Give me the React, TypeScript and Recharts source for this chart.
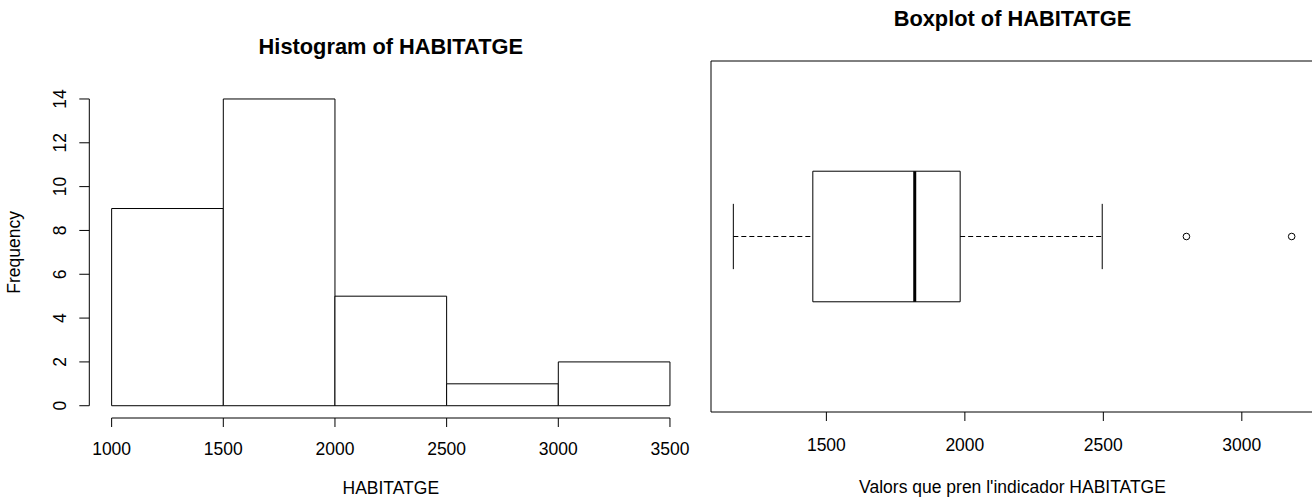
import React from 'react';
import { ComposedChart, XAxis, YAxis, ReferenceArea, ReferenceLine, Scatter } from 'recharts';

const FONT = '"Liberation Sans", Arial, Helvetica, sans-serif';

// ---------- Histogram data ----------
const binStarts = [1000, 1500, 2000, 2500, 3000];
const binEnds = [1500, 2000, 2500, 3000, 3500];
const frequencies = [9, 14, 5, 1, 2];
const histXTicks = [1000, 1500, 2000, 2500, 3000, 3500];
const histYTicks = [0, 2, 4, 6, 8, 10, 12, 14];

// ---------- Boxplot data ----------
// [lower whisker, Q1, median, Q3, upper whisker]
const boxStats = [1164, 1451, 1819, 1983, 2496];
const outliers = [2800, 3180];
const boxXTicks = [1500, 2000, 2500, 3000];

// R-style 4% axis extension
const ext = (lo: number, hi: number): [number, number] => {
  const d = (hi - lo) * 0.04;
  return [lo - d, hi + d];
};

const histXDomain = ext(Math.min(...binStarts), Math.max(...binEnds));
const histYDomain = ext(0, Math.max(...frequencies));
const boxXDomain = ext(boxStats[0], Math.max(boxStats[4], ...outliers));
const boxYDomain: [number, number] = [0.5, 1.5];
const BOX_HALF = 0.186;
const CAP_HALF = BOX_HALF / 2;

const outlierRows = outliers.map((v) => ({ x: v, y: 1 }));

const txt = { fontFamily: FONT, fontSize: 17.5, fill: '#000' };

const makeXTick = (offset: number) => (props: any) => (
  <text x={props.x} y={props.y + offset} textAnchor="middle" style={txt as any}>
    {props.payload.value}
  </text>
);

const YTick = (props: any) => {
  const x = props.x - 13;
  const y = props.y;
  return (
    <text x={x} y={y} textAnchor="middle" transform={`rotate(-90, ${x}, ${y})`} style={txt as any}>
      {props.payload.value}
    </text>
  );
};

const FreqLabel = (props: any) => {
  const vb = props.viewBox || { x: 0, y: 0, width: 0, height: 0 };
  const x = vb.x + 20;
  const y = vb.y + vb.height / 2;
  return (
    <text x={x} y={y} textAnchor="middle" transform={`rotate(-90, ${x}, ${y})`} style={txt as any}>
      Frequency
    </text>
  );
};

const makeXLabel = (value: string, dy: number) => (props: any) => {
  const vb = props.viewBox || { x: 0, y: 0, width: 0, height: 0 };
  return (
    <text x={vb.x + vb.width / 2} y={vb.y + dy} textAnchor="middle" style={txt as any}>
      {value}
    </text>
  );
};

const OutlierDot = (props: any) => (
  <circle cx={props.cx} cy={props.cy} r={3.3} fill="#fff" stroke="#000" strokeWidth={1} />
);

const titleStyle: React.CSSProperties = {
  position: 'absolute',
  fontFamily: FONT,
  fontWeight: 'bold',
  fontSize: 21.8,
  lineHeight: '21px',
  textAlign: 'center',
  color: '#000',
  whiteSpace: 'nowrap',
};

export default function App() {
  return (
    <div
      style={{
        position: 'absolute',
        left: 0,
        top: 0,
        width: 1312,
        height: 501,
        overflow: 'hidden',
        background: '#fff',
      }}
    >
      <div style={{ ...titleStyle, left: 89.3, width: 603, top: 35.5 }}>Histogram of HABITATGE</div>
      <div style={{ ...titleStyle, left: 711, width: 603, top: 8 }}>Boxplot of HABITATGE</div>

      {/* Histogram */}
      <div style={{ position: 'absolute', left: 0, top: 0 }}>
        <ComposedChart
          width={700}
          height={501}
          margin={{ top: 86.7, right: 7.7, bottom: 0, left: 0 }}
        >
          <XAxis
            type="number"
            dataKey="x"
            domain={histXDomain}
            ticks={histXTicks}
            allowDataOverflow
            axisLine={false}
            tickLine={{ stroke: '#000', strokeWidth: 1 }}
            tickSize={9}
            tickMargin={0}
            height={83}
            interval={0}
            tick={makeXTick(28)}
            label={makeXLabel('HABITATGE', 76)}
          />
          <YAxis
            type="number"
            dataKey="y"
            domain={histYDomain}
            ticks={histYTicks}
            allowDataOverflow
            axisLine={false}
            tickLine={{ stroke: '#000', strokeWidth: 1 }}
            tickSize={10}
            tickMargin={0}
            width={89.3}
            interval={0}
            tick={YTick}
            label={FreqLabel}
          />
          {binStarts.map((s, i) => (
            <ReferenceArea
              key={'bin' + i}
              x1={s}
              x2={binEnds[i]}
              y1={0}
              y2={frequencies[i]}
              fill="#fff"
              fillOpacity={1}
              stroke="#000"
              strokeWidth={1}
            />
          ))}
          <ReferenceLine
            segment={[
              { x: histXTicks[0], y: histYDomain[0] },
              { x: histXTicks[histXTicks.length - 1], y: histYDomain[0] },
            ]}
            stroke="#000"
            strokeWidth={1}
          />
          <ReferenceLine
            segment={[
              { x: histXDomain[0], y: histYTicks[0] },
              { x: histXDomain[0], y: histYTicks[histYTicks.length - 1] },
            ]}
            stroke="#000"
            strokeWidth={1}
          />
        </ComposedChart>
      </div>

      {/* Boxplot */}
      <div style={{ position: 'absolute', left: 700, top: 0 }}>
        <ComposedChart
          width={620}
          height={501}
          margin={{ top: 61, right: 6, bottom: 0, left: 11 }}
        >
          <XAxis
            type="number"
            dataKey="x"
            domain={boxXDomain}
            ticks={boxXTicks}
            allowDataOverflow
            axisLine={false}
            tickLine={{ stroke: '#000', strokeWidth: 1 }}
            tickSize={9}
            tickMargin={0}
            height={89}
            interval={0}
            tick={makeXTick(30)}
            label={makeXLabel("Valors que pren l'indicador HABITATGE", 81)}
          />
          <YAxis type="number" dataKey="y" domain={boxYDomain} hide width={0} />
          <ReferenceArea
            x1={boxXDomain[0]}
            x2={boxXDomain[1]}
            y1={boxYDomain[0]}
            y2={boxYDomain[1]}
            fill="none"
            stroke="#000"
            strokeWidth={1}
          />
          {/* whiskers */}
          <ReferenceLine
            segment={[{ x: boxStats[0], y: 1 }, { x: boxStats[1], y: 1 }]}
            stroke="#000"
            strokeDasharray="5 3"
          />
          <ReferenceLine
            segment={[{ x: boxStats[3], y: 1 }, { x: boxStats[4], y: 1 }]}
            stroke="#000"
            strokeDasharray="5 3"
          />
          <ReferenceLine
            segment={[{ x: boxStats[0], y: 1 - CAP_HALF }, { x: boxStats[0], y: 1 + CAP_HALF }]}
            stroke="#000"
          />
          <ReferenceLine
            segment={[{ x: boxStats[4], y: 1 - CAP_HALF }, { x: boxStats[4], y: 1 + CAP_HALF }]}
            stroke="#000"
          />
          {/* box */}
          <ReferenceArea
            x1={boxStats[1]}
            x2={boxStats[3]}
            y1={1 - BOX_HALF}
            y2={1 + BOX_HALF}
            fill="#fff"
            fillOpacity={1}
            stroke="#000"
            strokeWidth={1}
          />
          <ReferenceLine
            segment={[{ x: boxStats[2], y: 1 - BOX_HALF }, { x: boxStats[2], y: 1 + BOX_HALF }]}
            stroke="#000"
            strokeWidth={3}
          />
          <Scatter data={outlierRows} dataKey="y" shape={OutlierDot} isAnimationActive={false} />
        </ComposedChart>
      </div>
    </div>
  );
}
